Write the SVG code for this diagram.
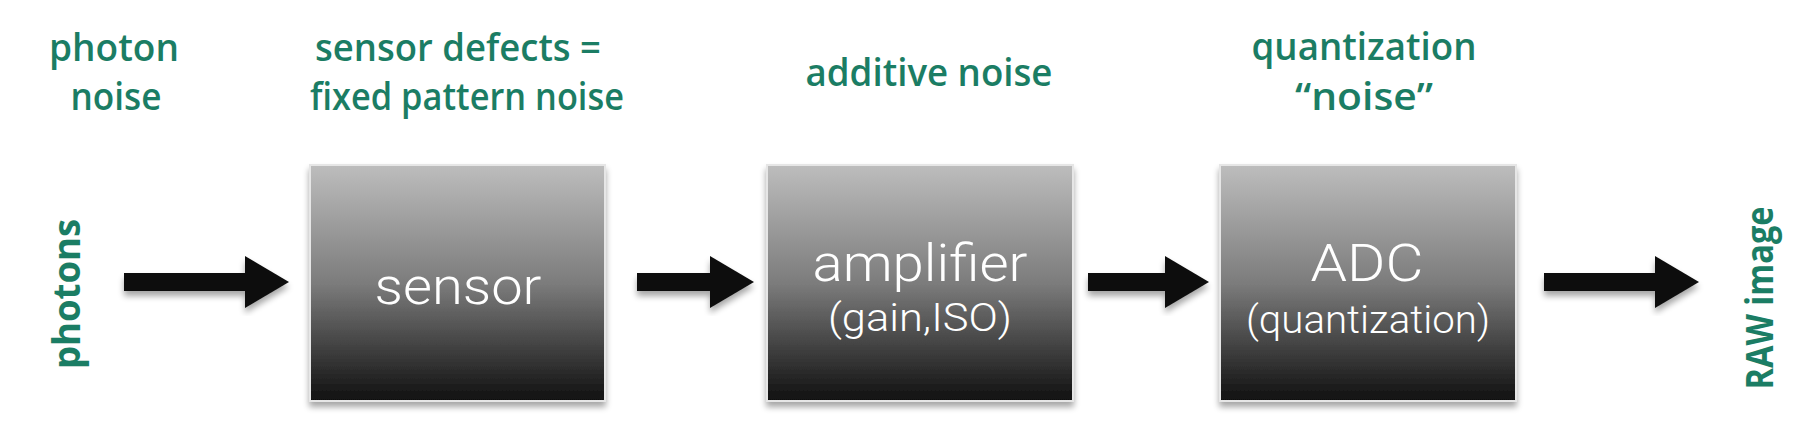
<svg xmlns="http://www.w3.org/2000/svg" width="1800" height="444" viewBox="0 0 1800 444">
<defs>
<linearGradient id="boxGrad" x1="0" y1="0" x2="0" y2="1">
<stop offset="0" stop-color="#bdbdbd"/>
<stop offset="0.5" stop-color="#7c7c7c"/>
<stop offset="1" stop-color="#101010"/>
</linearGradient>
<filter id="shadow" x="-10%" y="-10%" width="120%" height="125%">
<feGaussianBlur in="SourceAlpha" stdDeviation="3"/>
<feOffset dx="0" dy="5" result="b"/>
<feComponentTransfer><feFuncA type="linear" slope="0.35"/></feComponentTransfer>
<feMerge><feMergeNode/><feMergeNode in="SourceGraphic"/></feMerge>
</filter>
</defs>
<style>
.green{font-family:"Open Sans","Noto Sans",sans-serif;font-weight:600;font-size:37px;fill:#1b7d64;text-anchor:middle}
.box{fill:url(#boxGrad);stroke:#e6e6e6;stroke-width:2;filter:url(#shadow)}
.big{font-family:Roboto,"Liberation Sans",sans-serif;font-weight:300;font-size:52px;fill:#ffffff;text-anchor:middle}
.small{font-family:Roboto,"Liberation Sans",sans-serif;font-weight:300;font-size:38px;fill:#ffffff;text-anchor:middle}
.arrow{fill:#111111;filter:url(#shadow)}
</style>
<rect width="1800" height="444" fill="#ffffff"/>

<g id="label-photon-noise">
<text class="green" x="114" y="61" textLength="130" lengthAdjust="spacingAndGlyphs">photon</text>
<text class="green" x="116" y="110" textLength="91" lengthAdjust="spacingAndGlyphs">noise</text>
</g>
<g id="label-sensor-defects">
<text class="green" x="458" y="61" textLength="286" lengthAdjust="spacingAndGlyphs">sensor defects =</text>
<text class="green" x="467" y="110" textLength="314" lengthAdjust="spacingAndGlyphs">fixed pattern noise</text>
</g>
<g id="label-additive-noise">
<text class="green" x="929" y="86" textLength="247" lengthAdjust="spacingAndGlyphs">additive noise</text>
</g>
<g id="label-quantization-noise">
<text class="green" x="1364" y="60" textLength="225" lengthAdjust="spacingAndGlyphs">quantization</text>
<text class="green" x="1364" y="110" textLength="138" lengthAdjust="spacingAndGlyphs">“noise”</text>
</g>

<g id="photons">
<text class="green" transform="translate(80,294) rotate(-90)" x="0" y="0" textLength="150" lengthAdjust="spacingAndGlyphs" style="font-size:38px;font-weight:700">photons</text>
</g>

<g id="sensor">
<rect class="box" x="310" y="165" width="295" height="236"/>
<text class="big" x="458" y="304" textLength="167" lengthAdjust="spacingAndGlyphs">sensor</text>
</g>
<g id="amplifier">
<rect class="box" x="767" y="165" width="306" height="236"/>
<text class="big" x="920" y="281" textLength="215" lengthAdjust="spacingAndGlyphs">amplifier</text>
<text class="small" x="920" y="331" textLength="184" lengthAdjust="spacingAndGlyphs">(gain,ISO)</text>
</g>
<g id="adc">
<rect class="box" x="1220" y="165" width="296" height="236"/>
<text class="big" x="1367" y="281" textLength="113" lengthAdjust="spacingAndGlyphs">ADC</text>
<text class="small" x="1368" y="333" textLength="244" lengthAdjust="spacingAndGlyphs">(quantization)</text>
</g>

<g id="raw-image">
<text class="green" transform="translate(1773,298) rotate(-90)" x="0" y="0" textLength="183" lengthAdjust="spacingAndGlyphs" style="font-size:38px;font-weight:700">RAW image</text>
</g>

<g id="connectors">
<polygon class="arrow" points="124,273 245,273 245,256 289,282 245,308 245,291 124,291"/>
<polygon class="arrow" points="637,273 710,273 710,256 754,282 710,308 710,291 637,291"/>
<polygon class="arrow" points="1088,273 1165,273 1165,256 1209,282 1165,308 1165,291 1088,291"/>
<polygon class="arrow" points="1544,273 1655,273 1655,256 1699,282 1655,308 1655,291 1544,291"/>
</g>
</svg>
